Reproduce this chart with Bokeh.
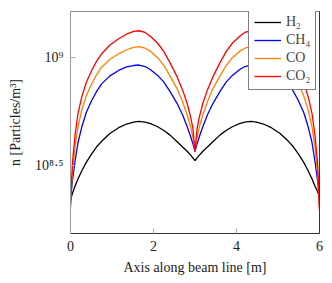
from bokeh.plotting import figure
from bokeh.models import Range1d, FixedTicker, LogAxis, Legend, LegendItem
from bokeh.embed import file_html
from bokeh.resources import INLINE

# Position along the beam line [m]
x_pos = [0.0, 0.02, 0.05, 0.11, 0.18, 0.27, 0.38, 0.51, 0.63, 0.75, 0.95, 1.16, 1.35, 1.52, 1.65,
         1.80, 1.93, 2.10, 2.25, 2.40, 2.57, 2.70, 2.81, 2.90, 2.95, 3.0,
         3.05, 3.10, 3.19, 3.30, 3.43, 3.60, 3.75, 3.90, 4.07, 4.20, 4.35, 4.48, 4.65, 4.84, 5.05,
         5.25, 5.37, 5.49, 5.62, 5.73, 5.82, 5.89, 5.95, 5.98, 6.0]

# Particle density n [Particles / m^3]
h2 = [2.18e8, 2.25e8, 2.36e8, 2.54e8, 2.74e8, 2.98e8, 3.27e8, 3.58e8, 3.86e8, 4.09e8, 4.45e8, 4.73e8, 4.92e8, 5.02e8, 5.06e8,
      5.02e8, 4.94e8, 4.78e8, 4.59e8, 4.37e8, 4.07e8, 3.85e8, 3.68e8, 3.52e8, 3.43e8, 3.33e8,
      3.43e8, 3.52e8, 3.68e8, 3.85e8, 4.07e8, 4.37e8, 4.59e8, 4.78e8, 4.94e8, 5.02e8, 5.06e8, 5.02e8, 4.92e8, 4.73e8, 4.45e8,
      4.09e8, 3.86e8, 3.58e8, 3.27e8, 2.98e8, 2.74e8, 2.54e8, 2.40e8, 2.32e8, 2.25e8]
ch4 = [2.11e8, 2.40e8, 2.72e8, 3.31e8, 4.03e8, 4.75e8, 5.56e8, 6.32e8, 6.97e8, 7.55e8, 8.22e8, 8.71e8, 9.04e8, 9.18e8, 9.23e8,
       9.08e8, 8.77e8, 8.26e8, 7.69e8, 6.95e8, 6.12e8, 5.43e8, 4.79e8, 4.27e8, 3.98e8, 3.67e8,
       3.98e8, 4.27e8, 4.79e8, 5.43e8, 6.12e8, 6.95e8, 7.69e8, 8.26e8, 8.77e8, 9.08e8, 9.23e8, 9.18e8, 9.04e8, 8.71e8, 8.22e8,
       7.55e8, 6.97e8, 6.32e8, 5.56e8, 4.75e8, 4.03e8, 3.31e8, 2.72e8, 2.40e8, 2.05e8]
co = [2.07e8, 2.45e8, 2.95e8, 3.85e8, 4.76e8, 5.69e8, 6.64e8, 7.55e8, 8.34e8, 9.02e8, 9.82e8, 10.40e8, 10.86e8, 11.14e8, 11.22e8,
      11.04e8, 10.67e8, 9.98e8, 9.18e8, 8.20e8, 7.16e8, 6.24e8, 5.43e8, 4.73e8, 4.27e8, 3.71e8,
      4.27e8, 4.73e8, 5.43e8, 6.24e8, 7.16e8, 8.20e8, 9.18e8, 9.98e8, 10.67e8, 11.04e8, 11.22e8, 11.14e8, 10.86e8, 10.40e8, 9.82e8,
      9.02e8, 8.34e8, 7.55e8, 6.64e8, 5.69e8, 4.76e8, 3.85e8, 2.95e8, 2.45e8, 2.00e8]
co2 = [2.02e8, 2.57e8, 3.31e8, 4.37e8, 5.50e8, 6.55e8, 7.66e8, 8.71e8, 9.62e8, 10.40e8, 11.43e8, 12.22e8, 12.82e8, 13.21e8, 13.30e8,
       13.06e8, 12.50e8, 11.64e8, 10.64e8, 9.44e8, 8.13e8, 7.08e8, 6.14e8, 5.25e8, 4.68e8, 3.67e8,
       4.68e8, 5.25e8, 6.14e8, 7.08e8, 8.13e8, 9.44e8, 10.64e8, 11.64e8, 12.50e8, 13.06e8, 13.30e8, 13.21e8, 12.82e8, 12.22e8, 11.43e8,
       10.40e8, 9.62e8, 8.71e8, 7.66e8, 6.55e8, 5.50e8, 4.37e8, 3.31e8, 2.57e8, 1.95e8]

series_labels = ["H₂", "CH₄", "CO", "CO₂"]
series_colors = ["black", "#0000ff", "#ff8000", "#ff0000"]

x_ticks = [0, 2, 4, 6]
y_ticks = [316227766.01683795, 1e9]
y_tick_labels = ["10⁸·⁵", "10⁹"]

FONT = "Liberation Serif"

p = figure(width=330, height=280, x_range=Range1d(0, 6), y_range=Range1d(1.531e8, 1.633e9),
           y_axis_type="log", output_backend="svg", toolbar_location=None,
           min_border_left=70, min_border_right=11, min_border_top=11, min_border_bottom=47)
p.outline_line_color = "#888888"
p.outline_line_width = 1
p.xgrid.visible = False
p.ygrid.visible = False
p.background_fill_color = "white"
p.border_fill_color = "white"

renderers = []
for ys, col in zip([h2, ch4, co, co2], series_colors):
    renderers.append(p.line(x_pos, ys, line_color=col, line_width=1.3))

xa = p.xaxis[0]
xa.ticker = FixedTicker(ticks=x_ticks)
xa.major_tick_in = 5
xa.major_tick_out = 0
xa.minor_tick_line_color = None
xa.axis_line_color = "#333333"
xa.major_tick_line_color = "#aaaaaa"
xa.major_label_standoff = 7
xa.major_label_text_font = FONT
xa.major_label_text_font_size = "14px"
xa.major_label_text_color = "#222222"
xa.axis_label = "Axis along beam line [m]"
xa.axis_label_text_font = FONT
xa.axis_label_text_font_size = "14px"
xa.axis_label_text_font_style = "normal"
xa.axis_label_text_color = "#222222"
xa.axis_label_standoff = 6

ya = p.yaxis[0]
ya.ticker = FixedTicker(ticks=y_ticks)
ya.major_label_overrides = dict(zip(y_ticks, y_tick_labels))
ya.major_tick_in = 5
ya.major_tick_out = 0
ya.minor_tick_line_color = None
ya.axis_line_color = "#999999"
ya.major_tick_line_color = "#aaaaaa"
ya.major_label_standoff = 7
ya.major_label_text_font = FONT
ya.major_label_text_font_size = "14px"
ya.major_label_text_color = "#222222"
ya.axis_label = "n [Particles/m³]"
ya.axis_label_text_font = FONT
ya.axis_label_text_font_size = "14px"
ya.axis_label_text_font_style = "normal"
ya.axis_label_text_color = "#222222"
ya.axis_label_standoff = 9

right = LogAxis(ticker=FixedTicker(ticks=[]), major_tick_in=0, major_tick_out=0,
                minor_tick_line_color=None, axis_line_color="#333333", major_tick_line_color=None,
                major_label_standoff=0)
p.add_layout(right, "right")

legend = Legend(items=[LegendItem(label=l, renderers=[r]) for l, r in zip(series_labels, renderers)],
                location=(178, 143), padding=5, spacing=2, glyph_width=27, glyph_height=16,
                label_height=16, label_standoff=5, label_text_font=FONT, label_text_font_size="14px",
                border_line_color="black", border_line_width=1, background_fill_color="white",
                background_fill_alpha=1.0, margin=0)
p.add_layout(legend)

open("out.html", "w").write(file_html(p, INLINE))
